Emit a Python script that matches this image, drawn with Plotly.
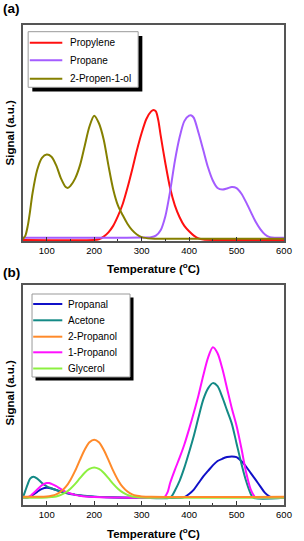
import plotly.graph_objects as go

# ---------------- data: panel (a) ----------------
A_NAMES = ["Propylene", "Propane", "2-Propen-1-ol"]

propylene_T = [50, 200, 210, 220, 230, 240, 250, 260, 270, 280, 290, 300, 310, 320, 325, 330, 335, 340,
               350, 360, 370, 380, 390, 400, 410, 420, 430, 450, 600]
propylene_S = [0.005, 0.005, 0.008, 0.02, 0.04, 0.07, 0.115, 0.17, 0.245, 0.33, 0.42, 0.50, 0.565, 0.60,
               0.607, 0.60, 0.56, 0.49, 0.36, 0.245, 0.165, 0.11, 0.07, 0.045, 0.025, 0.012, 0.007, 0.005, 0.005]

propane_T = [50, 300, 320, 330, 340, 350, 360, 370, 380, 390, 400, 405, 410, 420, 430, 440, 450, 460, 470,
             480, 490, 500, 510, 520, 530, 540, 550, 560, 570, 580, 600]
propane_S = [0.015, 0.016, 0.018, 0.025, 0.05, 0.115, 0.23, 0.37, 0.48, 0.555, 0.58, 0.581, 0.57, 0.50, 0.42,
             0.34, 0.28, 0.245, 0.238, 0.243, 0.25, 0.245, 0.22, 0.18, 0.135, 0.09, 0.055, 0.03, 0.018, 0.015, 0.015]

propenol_T = [50, 55, 60, 65, 70, 80, 90, 100, 110, 120, 130, 140, 145, 150, 160, 170, 180, 190, 200, 210,
              220, 230, 240, 250, 260, 270, 280, 290, 300, 320, 350, 600]
propenol_S = [0.01, 0.025, 0.07, 0.14, 0.22, 0.33, 0.385, 0.40, 0.39, 0.35, 0.29, 0.25, 0.246, 0.255, 0.29,
              0.35, 0.44, 0.53, 0.58, 0.545, 0.47, 0.35, 0.24, 0.165, 0.12, 0.08, 0.05, 0.03, 0.018, 0.011,
              0.01, 0.01]

# ---------------- data: panel (b) ----------------
B_NAMES = ["Propanal", "Acetone", "2-Propanol", "1-Propanol", "Glycerol"]

propanal_T = [50, 60, 65, 70, 80, 90, 100, 110, 120, 130, 140, 150, 160, 170, 180, 200, 250, 300, 380, 390,
              400, 410, 420, 430, 440, 450, 460, 470, 480, 490, 500, 510, 520, 530, 540, 550, 560, 570, 580, 600]
propanal_S = [0.033, 0.034, 0.038, 0.045, 0.06, 0.073, 0.078, 0.075, 0.068, 0.06, 0.054, 0.05, 0.046, 0.043,
              0.041, 0.038, 0.034, 0.033, 0.033, 0.036, 0.05, 0.07, 0.10, 0.13, 0.155, 0.18, 0.20, 0.21,
              0.218, 0.221, 0.218, 0.20, 0.175, 0.145, 0.115, 0.085, 0.055, 0.038, 0.033, 0.033]

acetone_T = [50, 55, 60, 65, 72, 80, 90, 100, 110, 120, 130, 140, 150, 160, 170, 180, 190, 200, 220, 250,
             300, 359, 365, 370, 380, 390, 400, 410, 420, 430, 440, 450, 460, 470, 480, 490, 500, 510, 520,
             530, 535, 600]
acetone_S = [0.035, 0.065, 0.095, 0.12, 0.128, 0.12, 0.10, 0.085, 0.076, 0.068, 0.061, 0.055, 0.051, 0.047,
             0.044, 0.042, 0.040, 0.038, 0.036, 0.034, 0.033, 0.033, 0.045, 0.065, 0.11, 0.17, 0.24, 0.315,
             0.40, 0.48, 0.53, 0.554, 0.54, 0.49, 0.43, 0.37, 0.28, 0.19, 0.11, 0.05, 0.033, 0.033]

propanol2_T = [50, 100, 110, 120, 130, 140, 150, 160, 170, 180, 190, 200, 210, 220, 230, 240, 250, 260, 270,
               280, 290, 300, 320, 600]
propanol2_S = [0.037, 0.039, 0.042, 0.048, 0.061, 0.082, 0.114, 0.156, 0.205, 0.251, 0.285, 0.297, 0.285,
               0.251, 0.205, 0.156, 0.114, 0.082, 0.061, 0.048, 0.042, 0.039, 0.037, 0.037]

propanol1_T = [50, 60, 65, 70, 80, 90, 100, 105, 110, 120, 130, 140, 150, 160, 170, 180, 200, 250, 300, 340,
               348, 355, 360, 370, 380, 390, 400, 410, 420, 430, 440, 450, 460, 470, 480, 490, 500, 510, 520,
               530, 540, 550, 600]
propanol1_S = [0.033, 0.035, 0.04, 0.05, 0.07, 0.09, 0.10, 0.10, 0.096, 0.086, 0.072, 0.06, 0.052, 0.046,
               0.042, 0.039, 0.036, 0.034, 0.033, 0.033, 0.036, 0.06, 0.10, 0.16, 0.215, 0.275, 0.345, 0.42,
               0.50, 0.59, 0.67, 0.717, 0.69, 0.62, 0.53, 0.44, 0.36, 0.26, 0.15, 0.07, 0.035, 0.033, 0.033]

glycerol_T = [50, 100, 110, 120, 130, 140, 150, 160, 170, 180, 190, 200, 210, 220, 230, 240, 250, 260, 270,
              280, 290, 300, 600]
glycerol_S = [0.033, 0.034, 0.036, 0.039, 0.046, 0.057, 0.074, 0.096, 0.122, 0.147, 0.164, 0.171, 0.164,
              0.147, 0.122, 0.096, 0.074, 0.057, 0.046, 0.039, 0.036, 0.034, 0.033]

X_TICKS = [100, 200, 300, 400, 500, 600]
X_TICK_LABELS = ["100", "200", "300", "400", "500", "600"]
X_TITLE = "<b>Temperature (<sup>o</sup>C)</b>"
Y_TITLE = "<b>Signal (a.u.)</b>"
PANEL_LABELS = ["(a)", "(b)"]

# ---------------- styles ----------------
A_COLORS = ["#ff1010", "#a45cff", "#858000"]
B_COLORS = ["#1010c8", "#148a86", "#ff8a2a", "#ff10ff", "#8cf040"]
FONT = "Liberation Sans, Arial, sans-serif"
LW = 2

W, H = 304, 541
ML, MR, MT, MB = 23, 12, 25, 36
PW, PH = W - ML - MR, H - MT - MB


def px(x):
    return (x - ML) / PW


def py(y):
    return (H - MB - y) / PH


fig = go.Figure()

a_series = [(propylene_T, propylene_S), (propane_T, propane_S), (propenol_T, propenol_S)]
for name, col, (t, s) in zip(A_NAMES, A_COLORS, a_series):
    fig.add_trace(go.Scatter(x=t, y=s, name=name, mode="lines", xaxis="x", yaxis="y",
                             line=dict(color=col, width=LW, shape="spline", smoothing=0.8)))

b_series = {"Propanal": (propanal_T, propanal_S), "Acetone": (acetone_T, acetone_S),
            "2-Propanol": (propanol2_T, propanol2_S), "1-Propanol": (propanol1_T, propanol1_S),
            "Glycerol": (glycerol_T, glycerol_S)}
draw_order = ["Propanal", "Acetone", "1-Propanol", "Glycerol", "2-Propanol"]
for name in draw_order:
    t, s = b_series[name]
    col = B_COLORS[B_NAMES.index(name)]
    fig.add_trace(go.Scatter(x=t, y=s, name=name, mode="lines", xaxis="x2", yaxis="y2",
                             line=dict(color=col, width=LW, shape="spline", smoothing=0.8)))

xax = dict(range=[50, 600], tickvals=X_TICKS, ticktext=X_TICK_LABELS, ticks="inside", ticklen=4,
           tickwidth=1, tickcolor="#333", showline=True, linecolor="#555", linewidth=1.5, mirror=True,
           showgrid=False, zeroline=False, tickfont=dict(family=FONT, size=9.5, color="#000"),
           minor=dict(tickvals=[50, 150, 250, 350, 450, 550], ticks="inside", ticklen=2, tickcolor="#333"),
           domain=[0, 1])
yax = dict(range=[0, 1], showticklabels=False, ticks="", showline=True, linecolor="#555", linewidth=1.5,
           mirror=True, showgrid=False, zeroline=False)

fig.update_layout(
    width=W, height=H, margin=dict(l=ML, r=MR, t=MT, b=MB),
    paper_bgcolor="white", plot_bgcolor="white", showlegend=False,
    font=dict(family=FONT, color="#000"),
    xaxis=dict(xax, anchor="y"),
    yaxis=dict(yax, domain=[py(241), 1.0], anchor="x"),
    xaxis2=dict(xax, anchor="y2"),
    yaxis2=dict(yax, domain=[0.0, py(285)], anchor="x2"),
)

ann = []
shapes = []
# panel labels
for lab, ypix in zip(PANEL_LABELS, [8.5, 272]):
    ann.append(dict(text="<b>%s</b>" % lab, x=px(11.5), y=py(ypix), xref="paper", yref="paper",
                    showarrow=False, font=dict(size=13.5, family=FONT, color="#000"),
                    xanchor="center", yanchor="middle"))
# axis titles
for ypix in [268, 533]:
    ann.append(dict(text=X_TITLE, x=px(157.5), y=py(ypix), xref="paper", yref="paper", showarrow=False,
                    font=dict(size=11.5, family=FONT, color="#000"), xanchor="center", yanchor="middle"))
for ypix in [133, 393]:
    ann.append(dict(text=Y_TITLE, x=px(10), y=py(ypix), xref="paper", yref="paper", showarrow=False,
                    textangle=-90, font=dict(size=11.5, family=FONT, color="#000"),
                    xanchor="center", yanchor="middle"))


# legends drawn as boxes with shadow
def legend_box(x0, y0, x1, y1, off, names, colors, rows, lx0, lx1, tx):
    shapes.append(dict(type="rect", xref="paper", yref="paper", x0=px(x0 + off), x1=px(x1 + off),
                       y0=py(y0 + off), y1=py(y1 + off), fillcolor="#000", line=dict(width=0)))
    shapes.append(dict(type="rect", xref="paper", yref="paper", x0=px(x0), x1=px(x1),
                       y0=py(y0), y1=py(y1), fillcolor="#fff", line=dict(color="#999", width=1)))
    for nm, col, ry in zip(names, colors, rows):
        shapes.append(dict(type="line", xref="paper", yref="paper", x0=px(lx0), x1=px(lx1),
                           y0=py(ry), y1=py(ry), line=dict(color=col, width=LW)))
        ann.append(dict(text=nm, x=px(tx), y=py(ry), xref="paper", yref="paper", showarrow=False,
                        font=dict(size=10, family=FONT, color="#000"), xanchor="left", yanchor="middle"))


legend_box(28.3, 31.7, 141.7, 87.3, 4.3, A_NAMES, A_COLORS, [42.7, 60.3, 78.7], 30, 63.5, 69)
legend_box(32.3, 294, 133.3, 377, 3.6, B_NAMES, B_COLORS, [304, 320.3, 336.7, 352.3, 368.5], 33.5, 63.5, 67.5)

fig.update_layout(annotations=ann, shapes=shapes)

POST = """
document.documentElement.style.margin='0';
document.documentElement.style.padding='0';
document.documentElement.style.overflow='hidden';
document.body.style.margin='0';
document.body.style.padding='0';
document.body.style.overflow='hidden';
var gd = document.getElementById('{plot_id}');
gd.style.position='fixed';
gd.style.left='0px';
gd.style.top='0px';
"""
fig.write_html("out.html", config={"displayModeBar": False}, post_script=POST)
